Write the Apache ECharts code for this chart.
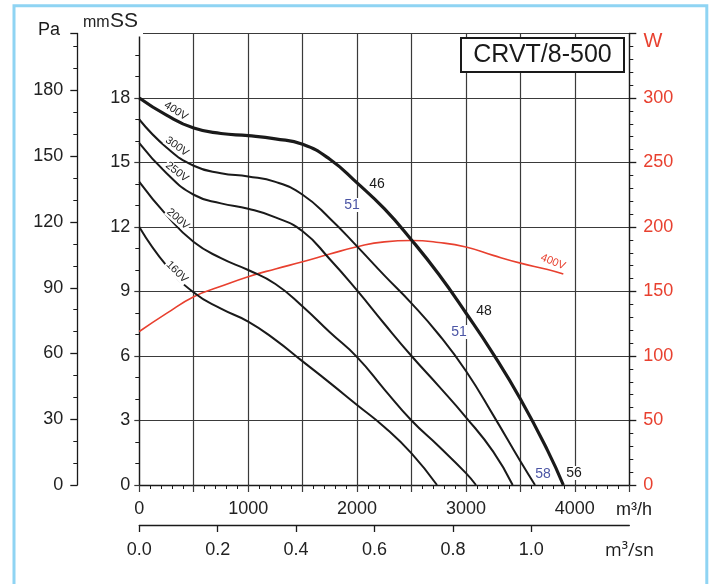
<!DOCTYPE html>
<html>
<head>
<meta charset="utf-8">
<script src="https://cdn.jsdelivr.net/npm/echarts@6/dist/echarts.min.js"></script>
<style>html,body{margin:0;padding:0;background:#fff}#c{width:722px;height:584px}</style>
</head>
<body>
<div id="c"></div>
<script>
// ---- data ----
const flowTicks = [0, 1000, 2000, 3000, 4000];
const flowSecTicks = [0, 0.2, 0.4, 0.6, 0.8, 1.0];

const q400 = [0,250,500,750,1000,1250,1500,1750,2000,2250,2500,2750,3000,3250,3500,3750,3894];
const h400 = [18.0,17.2,16.6,16.35,16.25,16.1,15.85,15.15,14.05,12.85,11.4,9.8,8.0,6.1,4.0,1.6,0];

const q300 = [0,250,500,750,1000,1250,1500,1750,2000,2250,2500,2750,3000,3250,3500,3634];
const h300 = [17.0,15.7,14.85,14.5,14.35,14.1,13.5,12.4,11.1,9.75,8.45,7.0,5.3,3.25,1.1,0];

const q250 = [0,250,500,750,1000,1250,1500,1750,2000,2250,2500,2750,3000,3250,3429];
const h250 = [15.9,14.5,13.5,13.1,12.85,12.45,11.8,10.5,9.05,7.5,6.0,4.6,3.15,1.55,0];

const q200 = [0,250,500,750,1000,1250,1500,1750,2000,2250,2500,2750,3000,3092];
const h200 = [14.1,12.55,11.3,10.55,10.0,9.35,8.3,7.1,5.95,4.45,3.0,1.8,0.55,0];

const q160 = [0,250,500,750,1000,1250,1500,1750,2000,2250,2500,2734];
const h160 = [12.0,10.2,8.95,8.2,7.6,6.75,5.75,4.75,3.72,2.7,1.47,0];

const qW = [0,250,500,750,1000,1250,1500,1750,2000,2250,2500,2750,3000,3250,3500,3750,3894];
const w400 = [119,133,146,154,161.5,167.5,173,179,184.7,188.5,189.5,188,184.5,178,172,167,163.5];

const curveNames = ['400V','300V','250V','200V','160V'];
const noiseLabels = ['46','51','48','51','58','56'];

// ---- build ----
const zip = (a, b) => a.map((v, i) => [v, b[i]]);
const FONT = 'Liberation Sans';
const RED = '#e8402f';
const BLUE = '#4b55a5';
const INK = '#1a1a1a';

const chart = echarts.init(document.getElementById('c'), null, {renderer: 'canvas'});

function blackLine(name, q, h, w) {
  return {
    name, type: 'line', xAxisIndex: 0, yAxisIndex: 0,
    data: zip(q, h), showSymbol: false, smooth: 0.5,
    lineStyle: {color: INK, width: w}, silent: true, z: 5
  };
}

function txt(x, y, text, opts) {
  opts = opts || {};
  const va = opts.valign || 'middle';
  return {
    type: 'text', x, y, rotation: opts.rot || 0, z: 100,
    style: Object.assign({
      text, fill: opts.color || INK, fontSize: opts.size || 18, fontFamily: opts.family || FONT,
      textAlign: opts.align || 'center', textVerticalAlign: va,
      align: opts.align || 'center', verticalAlign: va
    }, opts.bg ? {backgroundColor: '#fff', padding: opts.pad || [0, 1]} : {})
  };
}

const gridLine = {color: '#3a3a3a', width: 1.2};
const axisLine = {color: INK, width: 1.3};
const labelBase = {fontSize: 18, fontFamily: FONT, color: '#222'};

const option = {
  animation: false,
  backgroundColor: '#fff',
  grid: {left: 139.3, right: 92.7, top: 33.5, bottom: 99, containLabel: false},
  xAxis: [
    {
      type: 'value', min: 0, max: 4500, interval: 500, position: 'bottom',
      axisLine: {show: true, onZero: false, lineStyle: axisLine},
      axisTick: {show: true, length: 7, lineStyle: gridLine},
      minorTick: {show: true, splitNumber: 5, length: 4, lineStyle: {color: INK, width: 1}},
      splitLine: {show: true, lineStyle: gridLine},
      axisLabel: Object.assign({}, labelBase, {
        margin: 15,
        formatter: v => flowTicks.indexOf(v) >= 0 ? String(v) : ''
      })
    },
    {
      type: 'value', min: 0, max: 1.25, interval: 0.2, position: 'bottom', offset: 40,
      axisLine: {show: true, onZero: false, lineStyle: axisLine},
      axisTick: {show: true, length: 7, lineStyle: axisLine, customValues: flowSecTicks},
      splitLine: {show: false},
      axisLabel: Object.assign({}, labelBase, {
        margin: 16, customValues: flowSecTicks,
        formatter: v => Number(v).toFixed(1)
      })
    }
  ],
  yAxis: [
    {
      type: 'value', min: 0, max: 21, interval: 3, position: 'left',
      axisLine: {show: true, onZero: false, lineStyle: axisLine},
      axisTick: {show: true, length: 5, lineStyle: gridLine},
      minorTick: {show: true, splitNumber: 3, length: 4, lineStyle: {color: INK, width: 1}},
      splitLine: {show: true, lineStyle: gridLine},
      axisLabel: Object.assign({}, labelBase, {margin: 9, formatter: v => v >= 21 ? '' : String(v)})
    },
    {
      type: 'value', min: 0, max: 21 * 9.81, interval: 30, position: 'left', offset: 62,
      axisLine: {show: true, onZero: false, lineStyle: axisLine},
      axisTick: {show: true, length: 7, lineStyle: axisLine},
      minorTick: {show: true, splitNumber: 3, length: 4, lineStyle: {color: INK, width: 1}},
      splitLine: {show: false},
      axisLabel: Object.assign({}, labelBase, {margin: 14, formatter: v => (v % 30 === 0 && v <= 180) ? String(v) : ''})
    },
    {
      type: 'value', min: 0, max: 350, interval: 50, position: 'right',
      axisLine: {show: true, onZero: false, lineStyle: axisLine},
      axisTick: {show: true, length: 7, lineStyle: axisLine},
      minorTick: {show: true, splitNumber: 5, length: 4, lineStyle: {color: INK, width: 1}},
      splitLine: {show: false},
      axisLabel: Object.assign({}, labelBase, {color: RED, margin: 14, formatter: v => v >= 350 ? '' : String(v)})
    }
  ],
  series: [
    blackLine('160V', q160, h160, 2),
    blackLine('200V', q200, h200, 2),
    blackLine('250V', q250, h250, 2),
    blackLine('300V', q300, h300, 2),
    blackLine('400V', q400, h400, 3.2),
    {
      name: 'W 400V', type: 'line', xAxisIndex: 0, yAxisIndex: 2,
      data: zip(qW, w400), showSymbol: false, smooth: 0.5,
      lineStyle: {color: RED, width: 1.6}, silent: true, z: 4
    }
  ],
  graphic: [
    // outer light-blue frame
    {type: 'rect', z: 100, shape: {x: 14, y: 5.8, width: 692.8, height: 600},
     style: {fill: null, stroke: '#8fd4f3', lineWidth: 3}},
    // white patch behind mmSS
    {type: 'rect', z: 99, shape: {x: 80, y: 9, width: 63, height: 27.5}, style: {fill: '#fff'}},
    txt(83, 31, 'mm', {size: 16, align: 'left', valign: 'bottom', color: '#222'}),
    txt(110, 32, 'SS', {size: 21, align: 'left', valign: 'bottom', color: '#222'}),
    txt(49, 30, 'Pa', {size: 18}),
    txt(653, 41, 'W', {size: 20, color: RED}),
    txt(616, 510, 'm³/h', {size: 18, align: 'left'}),
    txt(605, 551, 'm³/sn', {size: 18, align: 'left', family: 'Open Sans'}),
    // model box
    {type: 'rect', z: 100, shape: {x: 461, y: 38, width: 163, height: 34},
     style: {fill: '#fff', stroke: INK, lineWidth: 2}},
    txt(542.5, 55.5, 'CRVT/8-500', {size: 25}),
    // curve labels
    txt(176, 111, curveNames[0], {size: 11, rot: -0.56, bg: true}),
    txt(177, 146.5, curveNames[1], {size: 11, rot: -0.62, bg: true}),
    txt(177, 172, curveNames[2], {size: 11, rot: -0.66, bg: true}),
    txt(178, 219, curveNames[3], {size: 11, rot: -0.72, bg: true}),
    txt(177, 272, curveNames[4], {size: 11, rot: -0.79, bg: true}),
    txt(553, 262, '400V', {size: 11, rot: -0.38, color: RED}),
    // sound level labels
    txt(377, 184, noiseLabels[0], {size: 14}),
    txt(352, 205, noiseLabels[1], {size: 14, color: BLUE, bg: true}),
    txt(484, 311, noiseLabels[2], {size: 14}),
    txt(459, 332, noiseLabels[3], {size: 14, color: BLUE, bg: true}),
    txt(543, 474, noiseLabels[4], {size: 14, color: BLUE}),
    txt(574, 473, noiseLabels[5], {size: 14, bg: true})
  ]
};
chart.setOption(option);
</script>
</body>
</html>
